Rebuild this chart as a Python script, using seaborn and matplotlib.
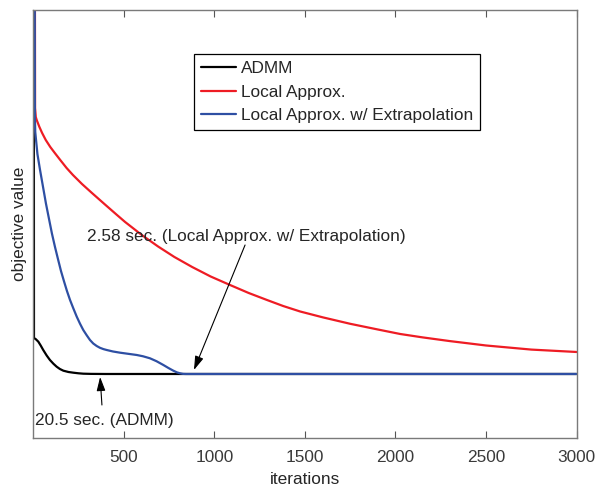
import numpy as np
import pandas as pd
import matplotlib
matplotlib.use("Agg")
import matplotlib.pyplot as plt
import seaborn as sns

# Objective value per iteration for each solver (arbitrary units)
admm_iter = [0, 5, 15, 29, 42, 56, 75, 93, 112, 130, 148, 167, 195, 222, 250, 277, 320, 400, 3000]
admm_obj = [2000, 100, 98.8, 96.3, 92.5, 88, 82.5, 78, 74.3, 71.3, 69, 67.3, 66, 65.3, 64.7, 64.3, 64.1, 64, 64]

local_iter = [0, 11, 15, 20, 35, 50, 70, 95, 120, 150, 185, 220, 270, 325, 400, 460, 508, 600,
              690, 780, 878, 980, 1087, 1190, 1291, 1380, 1474, 1600, 1750, 1900, 2026, 2150,
              2300, 2500, 2750, 3000]
local_obj = [2000, 330, 321, 318, 311, 305, 298, 291, 285, 278, 270, 263, 254, 245, 233, 223.5,
             216, 203, 191.5, 181, 171, 161.5, 153, 145, 138, 132, 126.5, 120.6, 114.2, 108.6, 104,
             100.6, 96.9, 92.5, 88.4, 86]

extrap_iter = [0, 10, 12, 24, 38, 55, 71, 88, 104, 121, 138, 154, 171, 187, 204, 222, 241, 259,
               277, 296, 314, 332, 351, 369, 388, 406, 441, 480, 524, 572, 607, 645, 681, 719,
               747, 774, 794, 811, 828, 844, 3000]
extrap_obj = [2000, 320, 306, 284, 268.5, 251, 234.5, 219, 204.5, 191, 178.5, 167, 156.5, 147,
              138, 129.7, 121.3, 114.3, 108, 102.7, 98, 94.5, 92, 90.2, 88.9, 88, 86.5, 85.3,
              84.2, 83, 81.7, 79.7, 76.8, 73, 70, 67.3, 65.6, 64.7, 64.1, 64, 64]

methods = ["ADMM", "Local Approx.", "Local Approx. w/ Extrapolation"]
colors = ["#000000", "#ee1c24", "#2e4fa3"]

xticks = [500, 1000, 1500, 2000, 2500, 3000]

df = pd.concat([
    pd.DataFrame({"iterations": admm_iter, "objective": admm_obj, "method": methods[0]}),
    pd.DataFrame({"iterations": local_iter, "objective": local_obj, "method": methods[1]}),
    pd.DataFrame({"iterations": extrap_iter, "objective": extrap_obj, "method": methods[2]}),
], ignore_index=True)

sns.set_theme(style="white")
plt.rcParams["font.family"] = ["Liberation Sans", "DejaVu Sans"]
fs = 12.4

fig = plt.figure(figsize=(5.96, 4.88), dpi=100)
ax = fig.add_axes([0.0555, 0.1025, 0.912, 0.8780])

sns.lineplot(data=df, x="iterations", y="objective", hue="method", hue_order=methods,
             palette=dict(zip(methods, colors)), estimator=None, sort=False,
             linewidth=1.6, ax=ax)

ax.set_xlim(0, 3000)
ax.set_ylim(0, 428.5)
ax.set_xticks(xticks)
ax.set_xticklabels([str(t) for t in xticks])
ax.set_yticks([])
ax.tick_params(axis="x", direction="in", length=5, width=0.8, color="#555555",
               top=True, bottom=True, pad=8.5, labelsize=fs, labelcolor="#3a3a3a")
for sp in ax.spines.values():
    sp.set_visible(True)
    sp.set_color("#7a7a7a")
    sp.set_linewidth(1.0)

ax.set_xlabel("iterations", fontsize=fs, color="#262626", labelpad=5.5)
ax.set_ylabel("objective value", fontsize=fs, color="#262626", labelpad=4.5)

leg = ax.legend(loc="upper left", bbox_to_anchor=(0.296, 0.896), borderaxespad=0,
                fontsize=fs, frameon=True, fancybox=False, framealpha=1,
                edgecolor="#000000", handlelength=2.0, handletextpad=0.3,
                labelspacing=0.48, borderpad=0.42)
leg.get_frame().set_linewidth(0.9)
for line in leg.get_lines():
    line.set_linewidth(1.6)

arrow = dict(arrowstyle="-|>,head_length=0.7,head_width=0.22", color="black",
             linewidth=0.8, shrinkA=0, shrinkB=0)
ax.annotate("", xy=(370, 61), xytext=(380, 33), arrowprops=arrow)
ax.text(10, 17, "20.5 sec. (ADMM)", ha="left", va="center", fontsize=fs, color="#262626")
ax.annotate("", xy=(888, 68), xytext=(1170, 193), arrowprops=arrow)
ax.text(298, 201, "2.58 sec. (Local Approx. w/ Extrapolation)", ha="left", va="center",
        fontsize=fs, color="#262626")

fig.savefig("out.png", dpi=100, facecolor="white")
